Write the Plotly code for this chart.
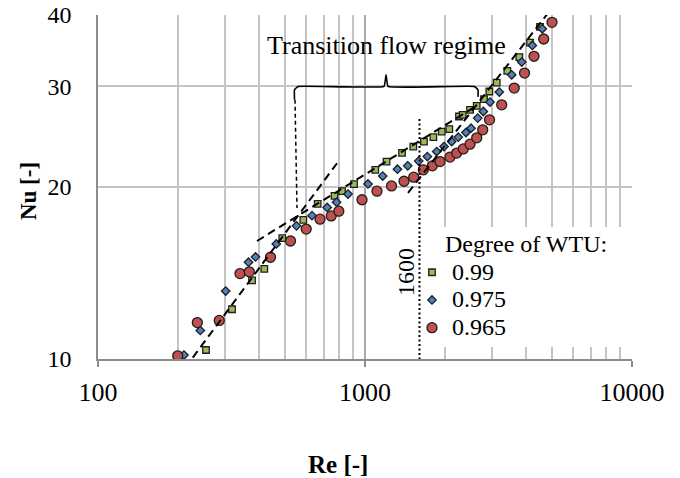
import math
import plotly.graph_objects as go

# ---- data ----
series_names = ["0.99", "0.975", "0.965"]

re_099 = [253.8, 317.6, 377.4, 419.7, 490.0, 587.4, 665.0, 768.8, 820.2, 909.6,
          1093, 1204, 1376, 1517, 1663, 1803, 1938, 2069, 2249, 2322,
          2474, 2621, 2791, 2922, 3114, 3412, 3784, 4150, 4523]
nu_099 = [10.37, 12.22, 13.73, 14.38, 16.27, 17.52, 18.68, 19.30, 19.67, 20.23,
          21.43, 22.16, 22.95, 23.54, 24.02, 24.45, 25.01, 25.25, 26.57, 26.75,
          27.30, 27.74, 28.50, 29.39, 30.47, 31.94, 33.76, 35.80, 38.14]

re_0975 = [209.9, 241.6, 300.8, 366.2, 389.0, 465.3, 553.9, 633.2, 721.9, 782.2,
           863.7, 1026, 1165, 1323, 1446, 1589, 1712, 1856, 1977, 2112,
           2236, 2389, 2495, 2643, 2774, 2939, 3184, 3543, 3864, 4233, 4613]
nu_0975 = [10.16, 11.22, 13.15, 14.77, 15.09, 15.90, 17.10, 17.82, 18.42, 18.81,
           19.44, 20.25, 20.90, 21.49, 21.78, 22.20, 22.61, 23.07, 23.54, 24.02,
           24.45, 24.91, 25.35, 26.40, 27.11, 28.16, 29.32, 31.43, 33.09, 35.38, 37.84]

re_0965 = [198.9, 235.5, 284.6, 340.3, 368.7, 442.6, 526.0, 602.3, 678.5, 747.0,
           797.9, 974.5, 1109, 1257, 1400, 1522, 1654, 1787, 1910, 2082,
           2205, 2334, 2474, 2621, 2760, 2926, 3251, 3622, 3958, 4295, 4670, 5016]
nu_0965 = [10.13, 11.58, 11.68, 14.11, 14.21, 15.07, 16.09, 16.88, 17.57, 17.80,
           18.14, 19.00, 19.67, 20.09, 20.47, 20.81, 21.43, 21.78, 22.16, 22.56,
           22.93, 23.32, 23.77, 24.38, 25.18, 26.22, 27.85, 29.80, 31.65, 33.87, 36.31, 38.84]

# guide (fit) lines
lam_re = [211.8, 792.5]
lam_nu = [9.644, 22.13]
trans_re = [393.9, 2628]
trans_nu = [16.09, 27.77]
turb_re = [1449, 5193]
turb_nu = [19.53, 42.02]
re_mark = [1600, 1600]
nu_mark = [9.8, 26.54]

# curly brace for the transition regime
brace_re = [544.5, 544.5, 561.2, 1178, 1199, 1220, 2570, 2650, 2650]
brace_nu = [28.42, 29.58, 30.0, 30.0, 31.43, 30.0, 30.0, 29.58, 28.76]
brace_leg_re = [546.8, 556.3]
brace_leg_nu = [28.42, 18.38]

x_tickvals = [100, 1000, 10000]
x_minor = [200, 300, 400, 500, 600, 700, 800, 900,
           2000, 3000, 4000, 5000, 6000, 7000, 8000, 9000]
y_tickvals = [10, 20, 30, 40]

FONT = "Liberation Serif"
BORDER = "#1e1e1e"

fig = go.Figure()

legend_text = lambda s: f"<span style='font-size:24px'>{s}</span>"

fig.add_trace(go.Scatter(
    x=re_099, y=nu_099, mode="markers", name=legend_text(series_names[0]),
    marker=dict(symbol="square", size=6.5, color="#9BBB59",
                line=dict(color=BORDER, width=1.3))))
fig.add_trace(go.Scatter(
    x=re_0975, y=nu_0975, mode="markers", name=legend_text(series_names[1]),
    marker=dict(symbol="diamond", size=6.5, color="#4F81BD",
                line=dict(color=BORDER, width=1.3))))
fig.add_trace(go.Scatter(
    x=re_0965, y=nu_0965, mode="markers", name=legend_text(series_names[2]),
    marker=dict(symbol="circle", size=10, color="#C0504D",
                line=dict(color=BORDER, width=1.3))))

dash_line = dict(color="black", width=2, dash="8px,5px")
for xs, ys in [(lam_re, lam_nu), (trans_re, trans_nu), (turb_re, turb_nu)]:
    fig.add_trace(go.Scatter(x=xs, y=ys, mode="lines", line=dash_line,
                             showlegend=False, hoverinfo="skip"))

fig.add_trace(go.Scatter(x=re_mark, y=nu_mark, mode="lines",
                         line=dict(color="black", width=2, dash="2px,2.5px"),
                         showlegend=False, hoverinfo="skip"))
fig.add_trace(go.Scatter(x=brace_re, y=brace_nu, mode="lines",
                         line=dict(color="black", width=1.6, shape="spline", smoothing=0.3),
                         showlegend=False, hoverinfo="skip"))
fig.add_trace(go.Scatter(x=brace_leg_re, y=brace_leg_nu, mode="lines",
                         line=dict(color="black", width=1.5, dash="4px,3px"),
                         showlegend=False, hoverinfo="skip"))

grid = "#c4c4c4"
fig.update_layout(
    width=680, height=478,
    margin=dict(l=98, r=48, t=15, b=119, autoexpand=False),
    paper_bgcolor="white", plot_bgcolor="white",
    font=dict(family=FONT, color="black"),
    xaxis=dict(type="log", range=[2, 4], tickvals=x_tickvals,
               ticktext=[str(v) for v in x_tickvals], automargin=False,
               ticks="outside", ticklen=6, tickcolor="#8c8c8c", tickwidth=1.5,
               showgrid=True, gridcolor="#a9a9a9", gridwidth=1.5,
               minor=dict(tickvals=x_minor, showgrid=True, gridcolor=grid,
                          gridwidth=1.5, ticks=""),
               showline=True, linecolor="#8c8c8c", linewidth=1.5, zeroline=False,
               tickfont=dict(family=FONT, size=26, color="black"),
               ticklabelstandoff=3),
    yaxis=dict(type="log", range=[1, math.log10(40)], tickvals=y_tickvals,
               ticktext=[str(v) for v in y_tickvals], ticks="", automargin=False,
               showgrid=True, gridcolor=grid, gridwidth=1.5,
               showline=True, linecolor="#8c8c8c", linewidth=1.5, zeroline=False,
               tickfont=dict(family=FONT, size=24, color="black"),
               ticklabelstandoff=20),
    showlegend=True,
    legend=dict(x=0.588, y=0.307, xanchor="left", yanchor="top",
                bgcolor="rgba(0,0,0,0)", borderwidth=0,
                font=dict(family=FONT, size=19, color="black"),
                itemwidth=30, tracegroupgap=0),
    shapes=[dict(type="rect", xref="paper", yref="paper",
                 x0=0.6086, x1=0.9963, y0=0.0349, y1=0.3837,
                 fillcolor="white", line=dict(width=0), layer="above")],
    annotations=[
        dict(text="Transition flow regime", xref="paper", yref="paper",
             x=0.5403, y=0.9099, xanchor="center", yanchor="middle",
             showarrow=False, font=dict(family=FONT, size=26, color="black")),
        dict(text="1600", xref="paper", yref="paper", x=0.5777, y=0.2544,
             textangle=-90, xanchor="center", yanchor="middle", showarrow=False,
             font=dict(family=FONT, size=24, color="black")),
        dict(text="Degree of WTU:", xref="paper", yref="paper", x=0.6461, y=0.3343,
             xanchor="left", yanchor="middle", showarrow=False,
             font=dict(family=FONT, size=24, color="black")),
        dict(text="<b>Nu [-]</b>", xref="paper", yref="paper", x=-0.1301, y=0.4869,
             textangle=-90, xanchor="center", yanchor="middle", showarrow=False,
             font=dict(family=FONT, size=23, color="black")),
        dict(text="<b>Re [-]</b>", xref="paper", yref="paper", x=0.4494, y=-0.3081,
             xanchor="center", yanchor="middle", showarrow=False,
             font=dict(family=FONT, size=25, color="black")),
    ],
)

fig.write_html("out.html", config={"displayModeBar": False},
               post_script="document.body.style.margin='0px';")
